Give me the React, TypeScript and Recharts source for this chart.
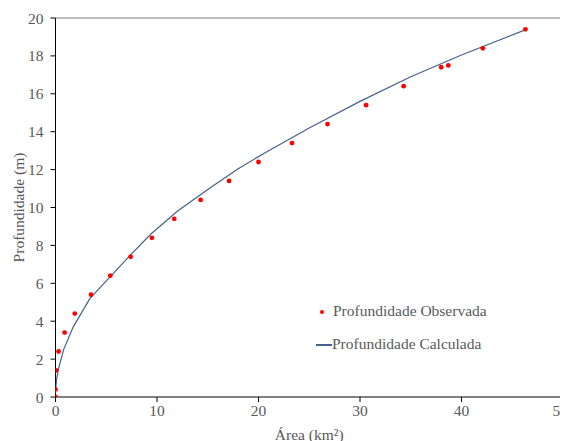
import React from 'react';
import { ScatterChart, Scatter, XAxis, YAxis, ReferenceLine } from 'recharts';

const obsArea = [0, 0, 0.05, 0.3, 0.9, 1.9, 3.5, 5.4, 7.4, 9.5, 11.7, 14.3, 17.1, 20.0, 23.3, 26.8, 30.6, 34.3, 38.0, 38.7, 42.1, 46.3];
const obsDepth = [0, 0.4, 1.4, 2.4, 3.4, 4.4, 5.4, 6.4, 7.4, 8.4, 9.4, 10.4, 11.4, 12.4, 13.4, 14.4, 15.4, 16.4, 17.4, 17.5, 18.4, 19.4];

const calcArea = [0, 0.02, 0.1, 0.3, 0.8, 1.75, 3.4, 5.4, 7.4, 9.4, 12, 15, 18, 21, 25, 30, 35, 40, 46.4];
const calcDepth = [0.2, 0.4, 0.9, 1.5, 2.5, 3.7, 5.2, 6.35, 7.5, 8.6, 9.8, 10.95, 12.05, 13.0, 14.2, 15.6, 16.9, 18.05, 19.4];

const xTicks = [0, 10, 20, 30, 40, 50];
const yTicks = [0, 2, 4, 6, 8, 10, 12, 14, 16, 18, 20];

const obsData = obsArea.map((x, i) => ({ x, y: obsDepth[i] }));
const calcData = calcArea.map((x, i) => ({ x, y: calcDepth[i] }));

const FONT = '"Liberation Serif", "Times New Roman", Times, serif';
const TEXT = '#595959';
const LINE = '#44628a';

const LegendBox = () => (
  <div style={{ position: 'absolute', left: 300, top: 293, width: 240, height: 60, fontFamily: FONT, fontSize: 15.5, color: TEXT }}>
    <div style={{ position: 'absolute', left: 12, top: 9, width: 4, height: 4, borderRadius: 2, background: '#ff0000' }} />
    <div style={{ position: 'absolute', left: 25, top: 1, whiteSpace: 'nowrap', lineHeight: '18px' }}>Profundidade Observada</div>
    <div style={{ position: 'absolute', left: 8, top: 43, width: 16, height: 1.5, background: LINE }} />
    <div style={{ position: 'absolute', left: 24, top: 34, whiteSpace: 'nowrap', lineHeight: '18px' }}>Profundidade Calculada</div>
  </div>
);

const tickStyle = { fill: TEXT, fontFamily: FONT, fontSize: 15.5 };

export default function App() {
  return (
    <div style={{ position: 'relative', width: 560, height: 433, fontFamily: FONT }}>
      <ScatterChart width={560} height={433} margin={{ top: 10, right: 5, left: 0, bottom: 0 }} style={{ fontFamily: FONT }}>
        <XAxis
          type="number"
          dataKey="x"
          domain={[0, 50]}
          ticks={xTicks}
          allowDataOverflow
          stroke="#000"
          tickSize={5}
          tickMargin={3}
          height={44}
          tick={tickStyle}
          label={{ value: 'Área (km²)', position: 'insideBottom', offset: 1, fill: TEXT, fontFamily: FONT, fontSize: 15.5 }}
        />
        <YAxis
          type="number"
          dataKey="y"
          domain={[0, 20]}
          ticks={yTicks}
          allowDataOverflow
          stroke="#000"
          tickSize={5}
          tickMargin={7}
          width={47.5}
          tick={tickStyle}
          label={{ value: 'Profundidade (m)', angle: -90, position: 'insideLeft', offset: 10, style: { textAnchor: 'middle' }, fill: TEXT, fontFamily: FONT, fontSize: 15.5 }}
        />
        <ReferenceLine y={20} stroke="#808080" strokeWidth={1} />
        <ReferenceLine x={50} stroke="#808080" strokeWidth={1} />
        <Scatter
          name="Profundidade Calculada"
          data={calcData}
          line={{ stroke: LINE, strokeWidth: 1.2 }}
          lineType="joint"
          shape={() => <g />}
          isAnimationActive={false}
        />
        <Scatter
          name="Profundidade Observada"
          data={obsData}
          fill="#ff0000"
          shape={(p: any) => <circle cx={p.cx} cy={p.cy} r={2.4} fill="#ff0000" />}
          isAnimationActive={false}
        />
      </ScatterChart>
      <LegendBox />
    </div>
  );
}
